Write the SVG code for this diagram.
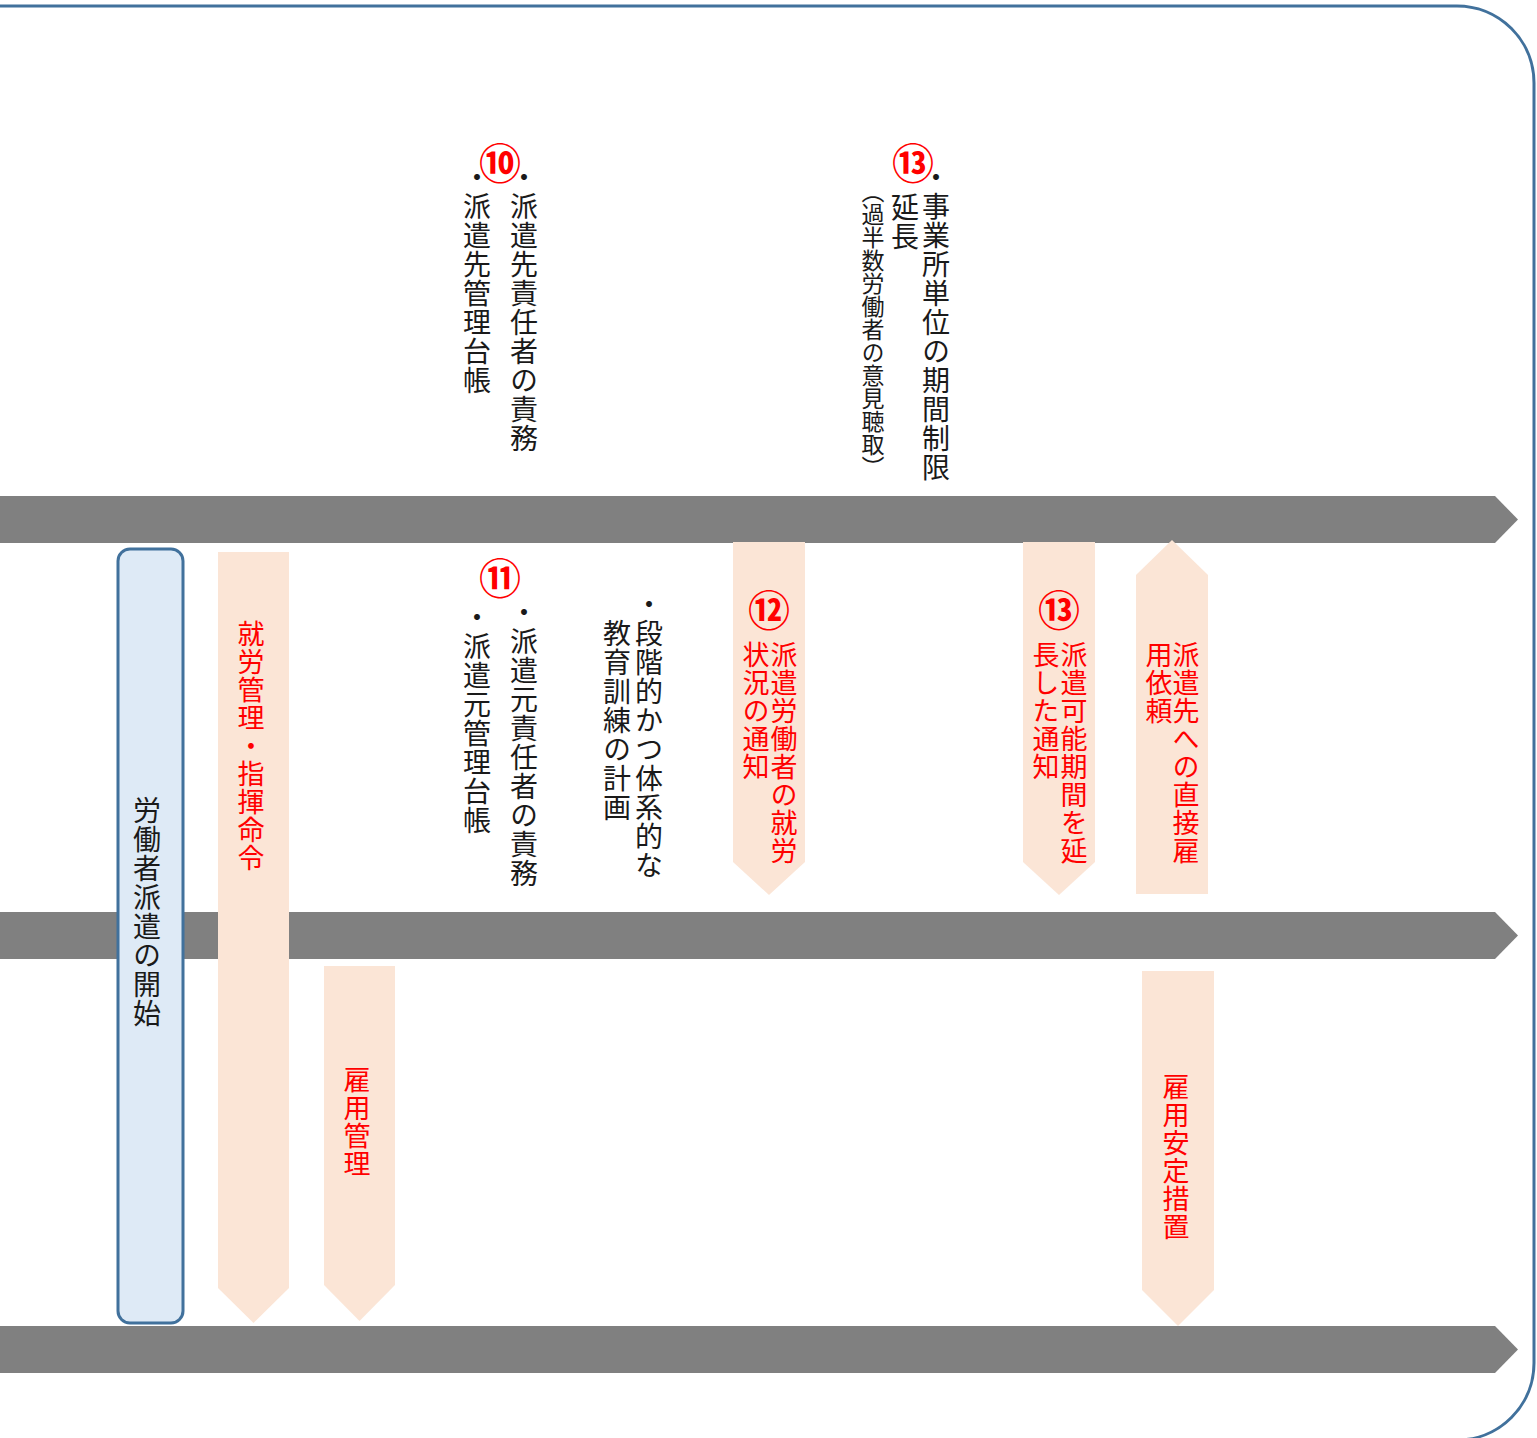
<svg xmlns="http://www.w3.org/2000/svg" width="1537" height="1438" viewBox="0 0 1537 1438">
<style>
.bar{fill:#808080;}
.pk{fill:#FBE5D6;}
.blue{fill:#DEEAF6;stroke:#41719C;stroke-width:3;}
.frame{fill:none;stroke:#41719C;stroke-width:3;}
.v{font-family:"Noto Sans CJK JP","Noto Sans CJK SC",sans-serif;writing-mode:vertical-rl;font-size:28px;letter-spacing:1px;fill:#1a1a1a;}
.vr{font-family:"Noto Sans CJK JP","Noto Sans CJK SC",sans-serif;writing-mode:vertical-rl;font-size:27px;letter-spacing:1px;fill:#FF0000;}
.vs{font-family:"Noto Sans CJK JP","Noto Sans CJK SC",sans-serif;writing-mode:vertical-rl;font-size:23px;fill:#1a1a1a;}
.num{font-family:"Noto Sans CJK JP","Noto Sans CJK SC",sans-serif;font-size:42px;font-weight:bold;fill:#FF0000;text-anchor:middle;dominant-baseline:central;}
</style>
<rect class="frame" x="-200" y="6" width="1734" height="1434" rx="77" ry="77"/>
<g id="timelines">
<polygon class="bar" points="0,496 1495,496 1518,519.5 1495,543 0,543"/>
<polygon class="bar" points="0,912 1495,912 1518,935.5 1495,959 0,959"/>
<polygon class="bar" points="0,1326 1495,1326 1518,1349.5 1495,1373 0,1373"/>
</g>
<g id="start">
<rect class="blue" x="118" y="549" width="65" height="774" rx="12" ry="12"/>
<text class="v" x="147" y="796">労働者派遣の開始</text>
</g>
<g id="shuro">
<polygon class="pk" points="218,552 289,552 289,1288 253.5,1323 218,1288"/>
<text class="vr" x="251" y="620">就労管理・指揮命令</text>
</g>
<g id="koyokanri">
<polygon class="pk" points="324,966 395,966 395,1285 359.5,1321 324,1285"/>
<text class="vr" x="357" y="1066">雇用管理</text>
</g>
<g id="n10">
<text class="num" x="500" y="160">⑩</text>
<text class="v" x="524" y="163">・派遣先責任者の責務</text>
<text class="v" x="477" y="163">・派遣先管理台帳</text>
</g>
<g id="n13top">
<text class="num" x="913" y="160">⑬</text>
<text class="v" x="936" y="163">・事業所単位の期間制限</text>
<text class="v" x="905" y="193">延長</text>
<text class="vs" x="873" y="180">（過半数労働者の意見聴取）</text>
</g>
<g id="n11">
<text class="num" x="500" y="575">⑪</text>
<text class="v" x="524" y="598">・派遣元責任者の責務</text>
<text class="v" x="477" y="603">・派遣元管理台帳</text>
</g>
<g id="kyoiku">
<text class="v" x="649" y="590">・段階的かつ体系的な</text>
<text class="v" x="617" y="619">教育訓練の計画</text>
</g>
<g id="n12">
<polygon class="pk" points="733,542 805,542 805,862 769,895 733,862"/>
<text class="num" x="769" y="607">⑫</text>
<text class="vr" x="784" y="641">派遣労働者の就労</text>
<text class="vr" x="756" y="641">状況の通知</text>
</g>
<g id="n13">
<polygon class="pk" points="1023,542 1095,542 1095,862 1059,895 1023,862"/>
<text class="num" x="1059" y="607">⑬</text>
<text class="vr" x="1074" y="641">派遣可能期間を延</text>
<text class="vr" x="1046" y="641">長した通知</text>
</g>
<g id="chokusetsu">
<polygon class="pk" points="1172,540 1208,575 1208,894 1136,894 1136,575"/>
<text class="vr" x="1186" y="641">派遣先への直接雇</text>
<text class="vr" x="1159" y="641">用依頼</text>
</g>
<g id="antei">
<polygon class="pk" points="1142,971 1214,971 1214,1290 1178,1326 1142,1290"/>
<text class="vr" x="1176" y="1073">雇用安定措置</text>
</g>
</svg>
